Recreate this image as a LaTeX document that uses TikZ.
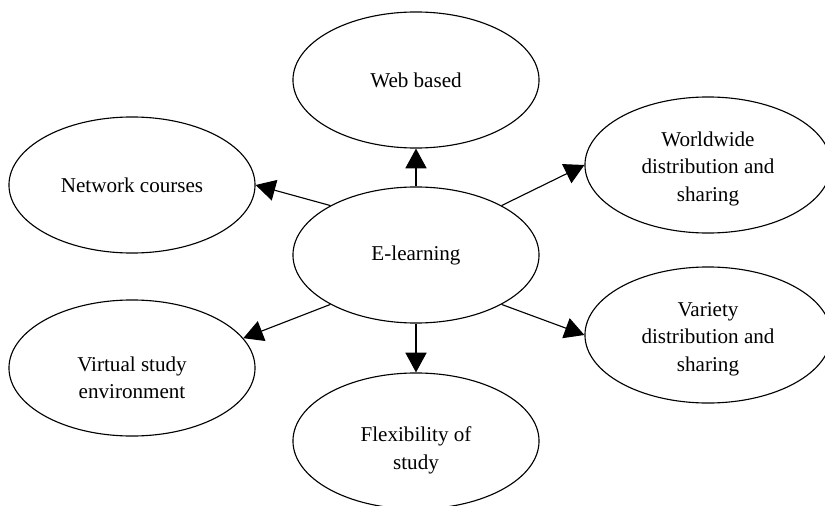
\documentclass[tikz,border=0pt]{standalone}
\usepackage{fontspec}
\setmainfont{Liberation Serif}
\usetikzlibrary{shapes.geometric,arrows.meta}
\tikzset{bubble/.style={ellipse, draw, line width=0.8pt, minimum width=6.15cm, minimum height=3.4cm,
  inner sep=0pt, align=center, font=\fontsize{15}{19.5}\selectfont},
  link/.style={line width=0.8pt, -{Triangle[length=14pt,width=15pt]}}}
\newcommand{\pushdown}[1]{\rule{0pt}{#1}}% taller first line = text sits lower
\begin{document}
\begin{tikzpicture}[x=0.025cm, y=-0.025cm] % pixel grid, y runs down
\useasboundingbox (0,0) rectangle (825,506);
\node[bubble] (elearn) at (416,255) {E-learning};
\node[bubble] (web) at (416,80) {Web based\pushdown{8pt}};
\node[bubble] (net) at (132,185) {Network courses};
\node[bubble] (virt) at (132,368) {\pushdown{24pt}Virtual study\\environment};
\node[bubble] (flex) at (416,441) {\pushdown{24pt}Flexibility of\\study};
\node[bubble] (wide) at (708,165) {\pushdown{16pt}Worldwide\\distribution and\\sharing};
\node[bubble] (var) at (708,335) {\pushdown{16pt}Variety\\distribution and\\sharing};
%arrows out of the middle one
\draw[link] (elearn.north) -- (web.south);
\draw[link] (elearn.south) -- (flex.north);
\draw[link] (elearn.150) -- (net.east);
\draw[link] (elearn.210) -- (virt.15);
\draw[link] (elearn.30) -- (wide.west);
\draw[link] (elearn.330) -- (var.west);
\end{tikzpicture}
\end{document}
